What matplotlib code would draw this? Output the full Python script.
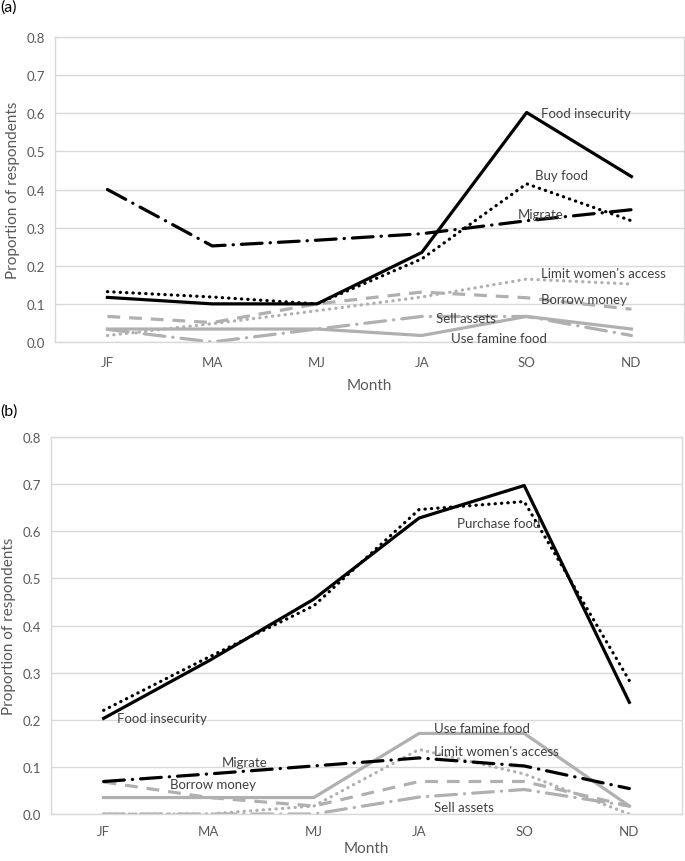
import matplotlib
matplotlib.use("Agg")
import matplotlib.pyplot as plt

plt.rcParams['font.family'] = ['Lato', 'DejaVu Sans']

months = ["JF", "MA", "MJ", "JA", "SO", "ND"]
yticks = [0.0, 0.1, 0.2, 0.3, 0.4, 0.5, 0.6, 0.7, 0.8]

# Panel (a)
a_food_insecurity = [0.117, 0.100, 0.100, 0.235, 0.602, 0.434]
a_buy_food = [0.132, 0.118, 0.100, 0.218, 0.415, 0.318]
a_migrate = [0.400, 0.252, 0.267, 0.284, 0.318, 0.347]
a_limit_women = [0.017, 0.048, 0.082, 0.118, 0.165, 0.152]
a_borrow_money = [0.067, 0.051, 0.100, 0.131, 0.116, 0.086]
a_sell_assets = [0.033, 0.000, 0.034, 0.067, 0.067, 0.017]
a_famine_food = [0.034, 0.034, 0.034, 0.017, 0.067, 0.034]

# Panel (b)
b_food_insecurity = [0.203, 0.325, 0.456, 0.628, 0.697, 0.237]
b_purchase_food = [0.220, 0.333, 0.442, 0.646, 0.663, 0.283]
b_migrate = [0.069, 0.085, 0.102, 0.119, 0.102, 0.054]
b_famine_food = [0.035, 0.035, 0.035, 0.171, 0.171, 0.017]
b_limit_women = [0.000, 0.000, 0.017, 0.137, 0.085, 0.000]
b_borrow_money = [0.068, 0.035, 0.017, 0.069, 0.069, 0.017]
b_sell_assets = [0.000, 0.000, 0.000, 0.036, 0.052, 0.017]

BLACK = "#000000"
GREY = "#B0B0B0"
TXT = "#404040"
TICK = "#595959"
GRID = "#D9D9D9"

styles = {
    "solid": dict(linestyle="-"),
    "dot": dict(linestyle=(0, (0.1, 1.9)), dash_capstyle="round"),
    "dashdot": dict(linestyle=(0, (6.5, 2.5, 0.1, 2.5)), dash_capstyle="round"),
    "dash": dict(linestyle=(0, (4, 2.8))),
}

fig = plt.figure(figsize=(6.85, 8.62), dpi=100)

def setup(ax, xpad, xlabelpad):
    ax.set_xlim(-0.5, 5.5)
    ax.set_ylim(0, 0.8)
    ax.set_xticks(range(len(months)))
    ax.set_xticklabels(months)
    ax.set_yticks(yticks)
    ax.set_yticklabels([f"{v:.1f}" for v in yticks])
    ax.tick_params(length=0, labelsize=9.5, colors=TICK, pad=7)
    ax.tick_params(axis="x", pad=xpad)
    ax.grid(axis="y", color=GRID, linewidth=1)
    ax.set_axisbelow(True)
    for s in ax.spines.values():
        s.set_color(GRID)
        s.set_linewidth(1)
    ax.set_xlabel("Month", fontsize=11, color=TICK, labelpad=xlabelpad)
    ax.set_ylabel("Proportion of respondents", fontsize=11, color=TICK, labelpad=5)

def line(ax, y, color, style, lw=2.3):
    ax.plot(range(len(months)), y, color=color, lw=lw, **styles[style])

def label(ax, x, y, s):
    ax.text(x, y, s, fontsize=9.5, color=TXT, ha="left", va="center")

# ----- (a)
ax1 = fig.add_axes([0.0803, 0.6021, 0.918, 0.3538])
setup(ax1, 10, 7)
line(ax1, a_famine_food, GREY, "solid")
line(ax1, a_sell_assets, GREY, "dashdot")
line(ax1, a_borrow_money, GREY, "dash")
line(ax1, a_limit_women, GREY, "dot")
line(ax1, a_migrate, BLACK, "dashdot")
line(ax1, a_buy_food, BLACK, "dot")
line(ax1, a_food_insecurity, BLACK, "solid")
label(ax1, 4.14, 0.601, "Food insecurity")
label(ax1, 4.08, 0.438, "Buy food")
label(ax1, 3.92, 0.336, "Migrate")
label(ax1, 4.14, 0.182, "Limit women's access")
label(ax1, 4.14, 0.113, "Borrow money")
label(ax1, 3.14, 0.063, "Sell assets")
label(ax1, 3.28, 0.011, "Use famine food")
fig.text(0.0, 1 - 8 / 862, "(a)", fontsize=11.5, color="#000000", ha="left", va="center")

# ----- (b)
ax2 = fig.add_axes([0.0745, 0.0545, 0.921, 0.4374])
setup(ax2, 8, 3)
line(ax2, b_sell_assets, GREY, "dashdot")
line(ax2, b_borrow_money, GREY, "dash")
line(ax2, b_limit_women, GREY, "dot")
line(ax2, b_famine_food, GREY, "solid")
line(ax2, b_migrate, BLACK, "dashdot")
line(ax2, b_purchase_food, BLACK, "dot")
line(ax2, b_food_insecurity, BLACK, "solid")
label(ax2, 3.36, 0.618, "Purchase food")
label(ax2, 0.13, 0.204, "Food insecurity")
label(ax2, 3.14, 0.183, "Use famine food")
label(ax2, 3.14, 0.134, "Limit women's access")
label(ax2, 1.12, 0.111, "Migrate")
label(ax2, 0.63, 0.064, "Borrow money")
label(ax2, 3.14, 0.015, "Sell assets")
fig.text(0.0, 1 - 412 / 862, "(b)", fontsize=11.5, color="#000000", ha="left", va="center")

fig.savefig("out.png", dpi=100)
